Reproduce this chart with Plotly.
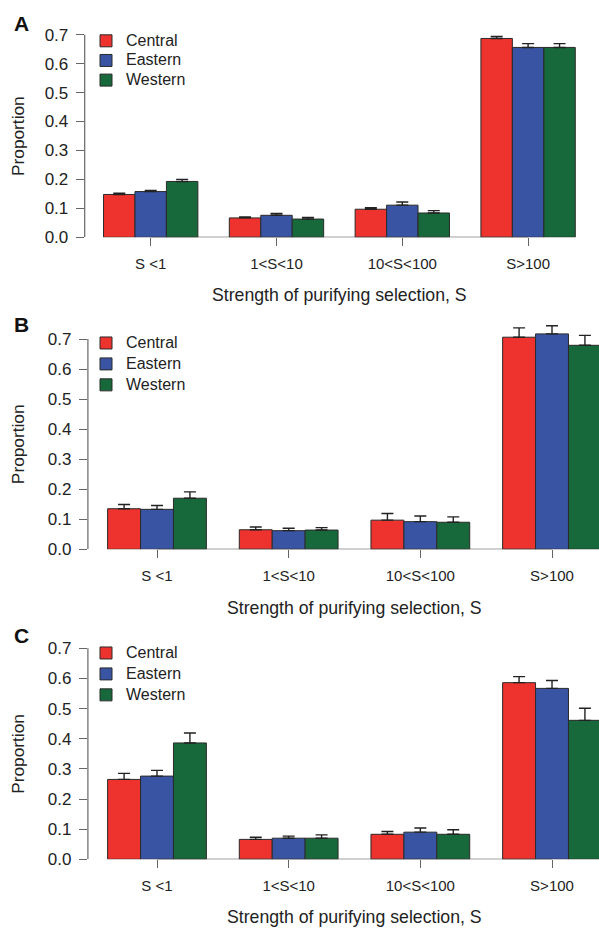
import plotly.graph_objects as go

# ---------------- data ----------------
categories = ["S <1", "1<S<10", "10<S<100", "S>100"]
populations = ["Central", "Eastern", "Western"]
colors = ["#EE322D", "#3A54A4", "#17683A"]

# Panel A
a_central = [0.148, 0.067, 0.097, 0.687]
a_eastern = [0.158, 0.076, 0.111, 0.656]
a_western = [0.193, 0.063, 0.084, 0.656]
a_central_err = [0.004, 0.003, 0.005, 0.007]
a_eastern_err = [0.004, 0.006, 0.011, 0.013]
a_western_err = [0.007, 0.006, 0.008, 0.013]

# Panel B
b_central = [0.135, 0.065, 0.097, 0.706]
b_eastern = [0.133, 0.062, 0.092, 0.717]
b_western = [0.170, 0.064, 0.090, 0.679]
b_central_err = [0.014, 0.009, 0.022, 0.031]
b_eastern_err = [0.013, 0.008, 0.019, 0.027]
b_western_err = [0.021, 0.008, 0.018, 0.033]

# Panel C
c_central = [0.265, 0.066, 0.083, 0.586]
c_eastern = [0.276, 0.070, 0.090, 0.567]
c_western = [0.386, 0.070, 0.083, 0.461]
c_central_err = [0.020, 0.007, 0.009, 0.020]
c_eastern_err = [0.019, 0.007, 0.014, 0.026]
c_western_err = [0.033, 0.011, 0.015, 0.040]

y_ticks = [0.0, 0.1, 0.2, 0.3, 0.4, 0.5, 0.6, 0.7]
x_title = "Strength of purifying selection, S"
y_title = "Proportion"
panel_labels = ["A", "B", "C"]

# ---------------- layout helpers ----------------
W, H = 599, 929
FONT = "Liberation Sans, Arial, Helvetica, sans-serif"
TXT = "#222222"
AX = "#666666"

panels = [
    dict(vals=[a_central, a_eastern, a_western], errs=[a_central_err, a_eastern_err, a_western_err],
         px0=237.3, px7=34.7, ymax=0.72, xleft=84.7, xright=594.2, c0=150.7, dc=125.8,
         label_y=23, legend_top=26, legend_fs=12.8, xtitle_y=295),
    dict(vals=[b_central, b_eastern, b_western], errs=[b_central_err, b_eastern_err, b_western_err],
         px0=549.3, px7=339.0, ymax=0.76, xleft=87.9, xright=599.0, c0=157.0, dc=131.67,
         label_y=325, legend_top=327.5, legend_fs=13.8, xtitle_y=608),
    dict(vals=[c_central, c_eastern, c_western], errs=[c_central_err, c_eastern_err, c_western_err],
         px0=859.3, px7=648.3, ymax=0.72, xleft=87.9, xright=599.0, c0=157.0, dc=131.67,
         label_y=635, legend_top=637.5, legend_fs=13.8, xtitle_y=917),
]

fig = go.Figure()
annotations = []
shapes = []
layout_axes = {}

for i, p in enumerate(panels):
    n = i + 1
    xa = "x" if n == 1 else f"x{n}"
    ya = "y" if n == 1 else f"y{n}"
    leg = "legend" if n == 1 else f"legend{n}"
    for j, pop in enumerate(populations):
        fig.add_trace(go.Bar(
            x=categories, y=p["vals"][j],
            name='<span style="font-size:16px">%s</span>' % pop,
            marker=dict(color=colors[j], line=dict(color="#2a2a2a", width=1)),
            error_y=dict(type="data", array=p["errs"][j], arrayminus=[0] * len(categories),
                         symmetric=False, color="#222222", thickness=1.4, width=6),
            xaxis=xa, yaxis=ya, legend=leg, showlegend=True,
        ))
    ppu = (p["px0"] - p["px7"]) / 0.7
    top_px = p["px0"] - p["ymax"] * ppu
    ydom = [1 - p["px0"] / H, 1 - top_px / H]
    xdom = [p["xleft"] / W, min(1.0, p["xright"] / W)]
    r0 = (p["xleft"] - p["c0"]) / p["dc"]
    r1 = (p["xright"] - p["c0"]) / p["dc"]
    xkey = "xaxis" if n == 1 else f"xaxis{n}"
    ykey = "yaxis" if n == 1 else f"yaxis{n}"
    layout_axes[xkey] = dict(
        domain=xdom, range=[r0, r1], anchor=ya, type="category", automargin=False,
        showline=False, showgrid=False, zeroline=False,
        ticks="outside", ticklen=8, tickwidth=1, tickcolor=AX,
        tickfont=dict(family=FONT, size=15, color=TXT), ticklabelstandoff=5,
    )
    layout_axes[ykey] = dict(
        domain=ydom, range=[0, p["ymax"]], anchor=xa, automargin=False,
        showline=False, showgrid=False, zeroline=False,
        tickvals=y_ticks, tickformat=".1f",
        ticks="outside", ticklen=8, tickwidth=1, tickcolor=AX,
        tickfont=dict(family=FONT, size=17, color=TXT), ticklabelstandoff=4,
    )
    # axis lines in R style (y from 0 to 0.7, x from first to last tick)
    shapes.append(dict(type="line", xref=f"{xa} domain", yref=ya, x0=0, x1=0,
                       y0=y_ticks[0], y1=y_ticks[-1], line=dict(color=AX, width=1.2)))
    shapes.append(dict(type="line", xref=xa, yref=ya, x0=0, x1=len(categories) - 1,
                       y0=0, y1=0, line=dict(color="#444444", width=1.2)))
    # titles
    annotations.append(dict(text=x_title, xref="paper", yref="paper",
                            x=(p["c0"] + 1.5 * p["dc"]) / W, y=1 - p["xtitle_y"] / H,
                            xanchor="center", yanchor="middle", showarrow=False,
                            font=dict(family=FONT, size=17.7, color=TXT)))
    annotations.append(dict(text=y_title, xref="paper", yref="paper",
                            x=18 / W, y=1 - ((p["px0"] + p["px7"]) / 2) / H,
                            xanchor="center", yanchor="middle", showarrow=False, textangle=-90,
                            font=dict(family=FONT, size=17.3, color=TXT)))
    annotations.append(dict(text="<b>%s</b>" % panel_labels[i], xref="paper", yref="paper",
                            x=21 / W, y=1 - p["label_y"] / H,
                            xanchor="center", yanchor="middle", showarrow=False,
                            font=dict(family=FONT, size=21, color="#111111")))
    layout_axes[leg] = dict(x=86 / W, y=1 - p["legend_top"] / H, xanchor="left", yanchor="top",
                            bgcolor="rgba(0,0,0,0)", borderwidth=0,
                            font=dict(family=FONT, size=p["legend_fs"], color=TXT),
                            tracegroupgap=0)

fig.update_layout(
    width=W, height=H,
    margin=dict(l=0, r=0, t=0, b=0, autoexpand=False),
    paper_bgcolor="white", plot_bgcolor="white",
    barmode="group", bargap=0.25, bargroupgap=0,
    annotations=annotations, shapes=shapes,
    **layout_axes,
)

fig.write_html(
    "out.html",
    config={"displayModeBar": False},
    post_script="document.body.style.margin='0';document.body.style.overflow='hidden';",
)
